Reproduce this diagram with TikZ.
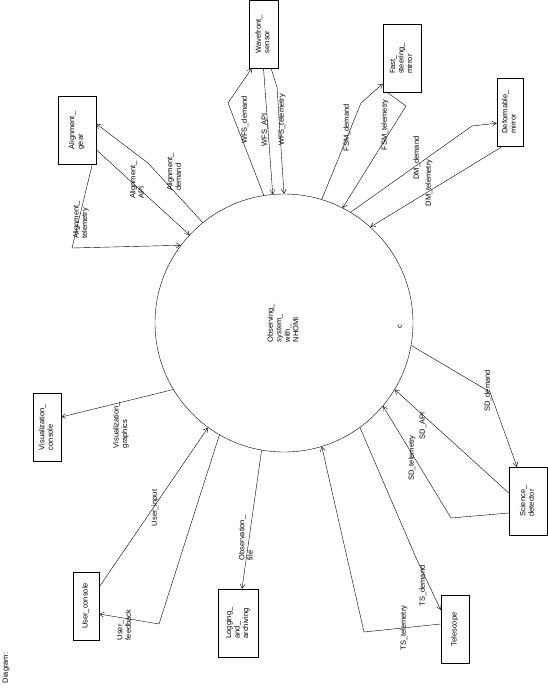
\documentclass[tikz,border=0pt]{standalone}
\usepackage{fontspec}
\setmainfont{Liberation Sans}
\usepackage{graphicx}
\usetikzlibrary{arrows.meta}

\newcommand{\rt}[1]{\rotatebox{90}{\begin{tabular}{@{}l@{}}#1\end{tabular}}}

\begin{document}
\begin{tikzpicture}[
    x=1pt, y=-1pt,
    every node/.style={font=\fontsize{7.5}{8.5}\selectfont},
    box/.style={draw, rectangle, inner sep=0pt, minimum height=68pt},
    flow/.style={-{Straight Barb[angle=60:5pt]}},
    lbl/.style={rotate=90, align=left, inner sep=0pt}
    ]
    \useasboundingbox (0,0) rectangle (548,689);

    %% The system
    \node[draw, circle, minimum size=258pt, inner sep=0pt](obs) at (284,323)
        {\rt{Observing\_\\system\_\\with\_\\NHOMI}};
    \node[lbl](cmark) at (400,327) {c};

    %% Terminators
    \node[box, minimum width=29pt](wfs) at (263.5,34) {\rt{Wavefront\_\\sensor}};
    \node[box, minimum width=38pt](fsm) at (402,58.5) {\rt{Fast\_\\steering\_\\mirror}};
    \node[box, minimum width=26pt](dm) at (510,112) {\rt{Deformable\_\\mirror}};
    \node[box, minimum width=38pt](gear) at (77,130.5) {\rt{Alignment\_\\gear}};
    \node[box, minimum width=28pt](vis) at (47,427) {\rt{Visualization\_\\console}};
    \node[box, minimum width=26pt](ucon) at (86,606) {\rt{User\_console}};
    \node[box, minimum width=40pt](logg) at (238,623) {\rt{Logging\_\\and\_\\archiving}};
    \node[box, minimum width=28pt](tel) at (455,629.5) {\rt{Telescope}};
    \node[box, minimum width=38pt](sci) at (528,501) {\rt{Science\_\\detector}};

    %% Wavefront sensor
    \draw[flow] (obs.99.3) -- (228,103) -- ([xshift=3pt]wfs.south west);
    \draw[flow] (wfs.south) -- (obs.95.3);
    \draw[flow] ([xshift=7.5pt]wfs.south) -- (277,87) -- (obs.90.4);
    \node[lbl](l1) at (245,120) {WFS\_demand};
    \node[lbl](l2) at (265,130) {WFS\_API};
    \node[lbl](l3) at (282,120) {WFS\_telemetry};

    %% Fast steering mirror
    \draw[flow] (obs.73.4) -- (361,103) -- ([yshift=9pt]fsm.south west);
    \draw[flow] ([xshift=5pt]fsm.south west) -- (406,106) -- (obs.63.8);
    \node[lbl](l4) at (347,128) {FSM\_demand};
    \node[lbl](l5) at (385,125) {FSM\_telemetry};

    %% Deformable mirror
    \draw[flow] (obs.59.5) -- (472,126) -- ([yshift=23pt]dm.south west);
    \draw[flow] ([xshift=6pt]dm.south west) -- (obs.48.2);
    \node[lbl](l6) at (417,158) {DM\_demand};
    \node[lbl](l7) at (429,183) {DM\_telemetry};

    %% Alignment gear
    \draw[flow] (obs.129.4) -- (148,163) -- ([yshift=41pt]gear.south east);
    \draw[flow] ([yshift=15pt]gear.south east) -- (obs.137.5);
    \draw[flow] ([xshift=-4pt]gear.south east) -- (72,248) -- (obs.143);
    \node[lbl](l8) at (174,172) {Alignment\_\\demand};
    \node[lbl](l9) at (137,180) {Alignment\_\\API};
    \node[lbl](l10) at (81,220) {Alignment\_\\telemetry};

    %% Visualization console
    \draw[flow] (obs.211.1) -- ([yshift=10pt]vis.east);
    \node[lbl](l11) at (121,425) {Visualization\_\\graphics};

    %% User console
    \draw[flow] ([yshift=19pt]ucon.east) -- (obs.234.1);
    \draw[flow] (obs.240.3) -- (159,624) -- ([yshift=-8pt]ucon.east);
    \node[lbl](l12) at (155,508) {User\_input};
    \node[lbl](l13) at (124,625) {User\_\\feedback};

    %% Logging and archiving
    \draw[flow] (obs.260.2) -- ([xshift=4pt]logg.north);
    \node[lbl](l14) at (246,538) {Observation\_\\file};

    %% Telescope
    \draw[flow] (obs.306.9) -- (417,560) -- ([yshift=19.5pt]tel.west);
    \draw[flow] ([yshift=5.5pt]tel.west) -- (364,632) -- (obs.287);
    \node[lbl](l15) at (423,586) {TS\_demand};
    \node[lbl](l16) at (404,628) {TS\_telemetry};

    %% Science detector
    \draw[flow] (obs.350.1) -- (490,392) -- ([xshift=-11pt]sci.north);
    \draw[flow] ([yshift=8pt]sci.west) -- (obs.329.9);
    \draw[flow] ([yshift=-12pt]sci.west) -- (451,518) -- (obs.320.6);
    \node[lbl](l17) at (488,391) {SD\_demand};
    \node[lbl](l18) at (423,426) {SD\_API};
    \node[lbl](l19) at (412,458) {SD\_telemetry};

    \node[lbl](diag) at (6,668) {Diagram:};
\end{tikzpicture}
\end{document}
